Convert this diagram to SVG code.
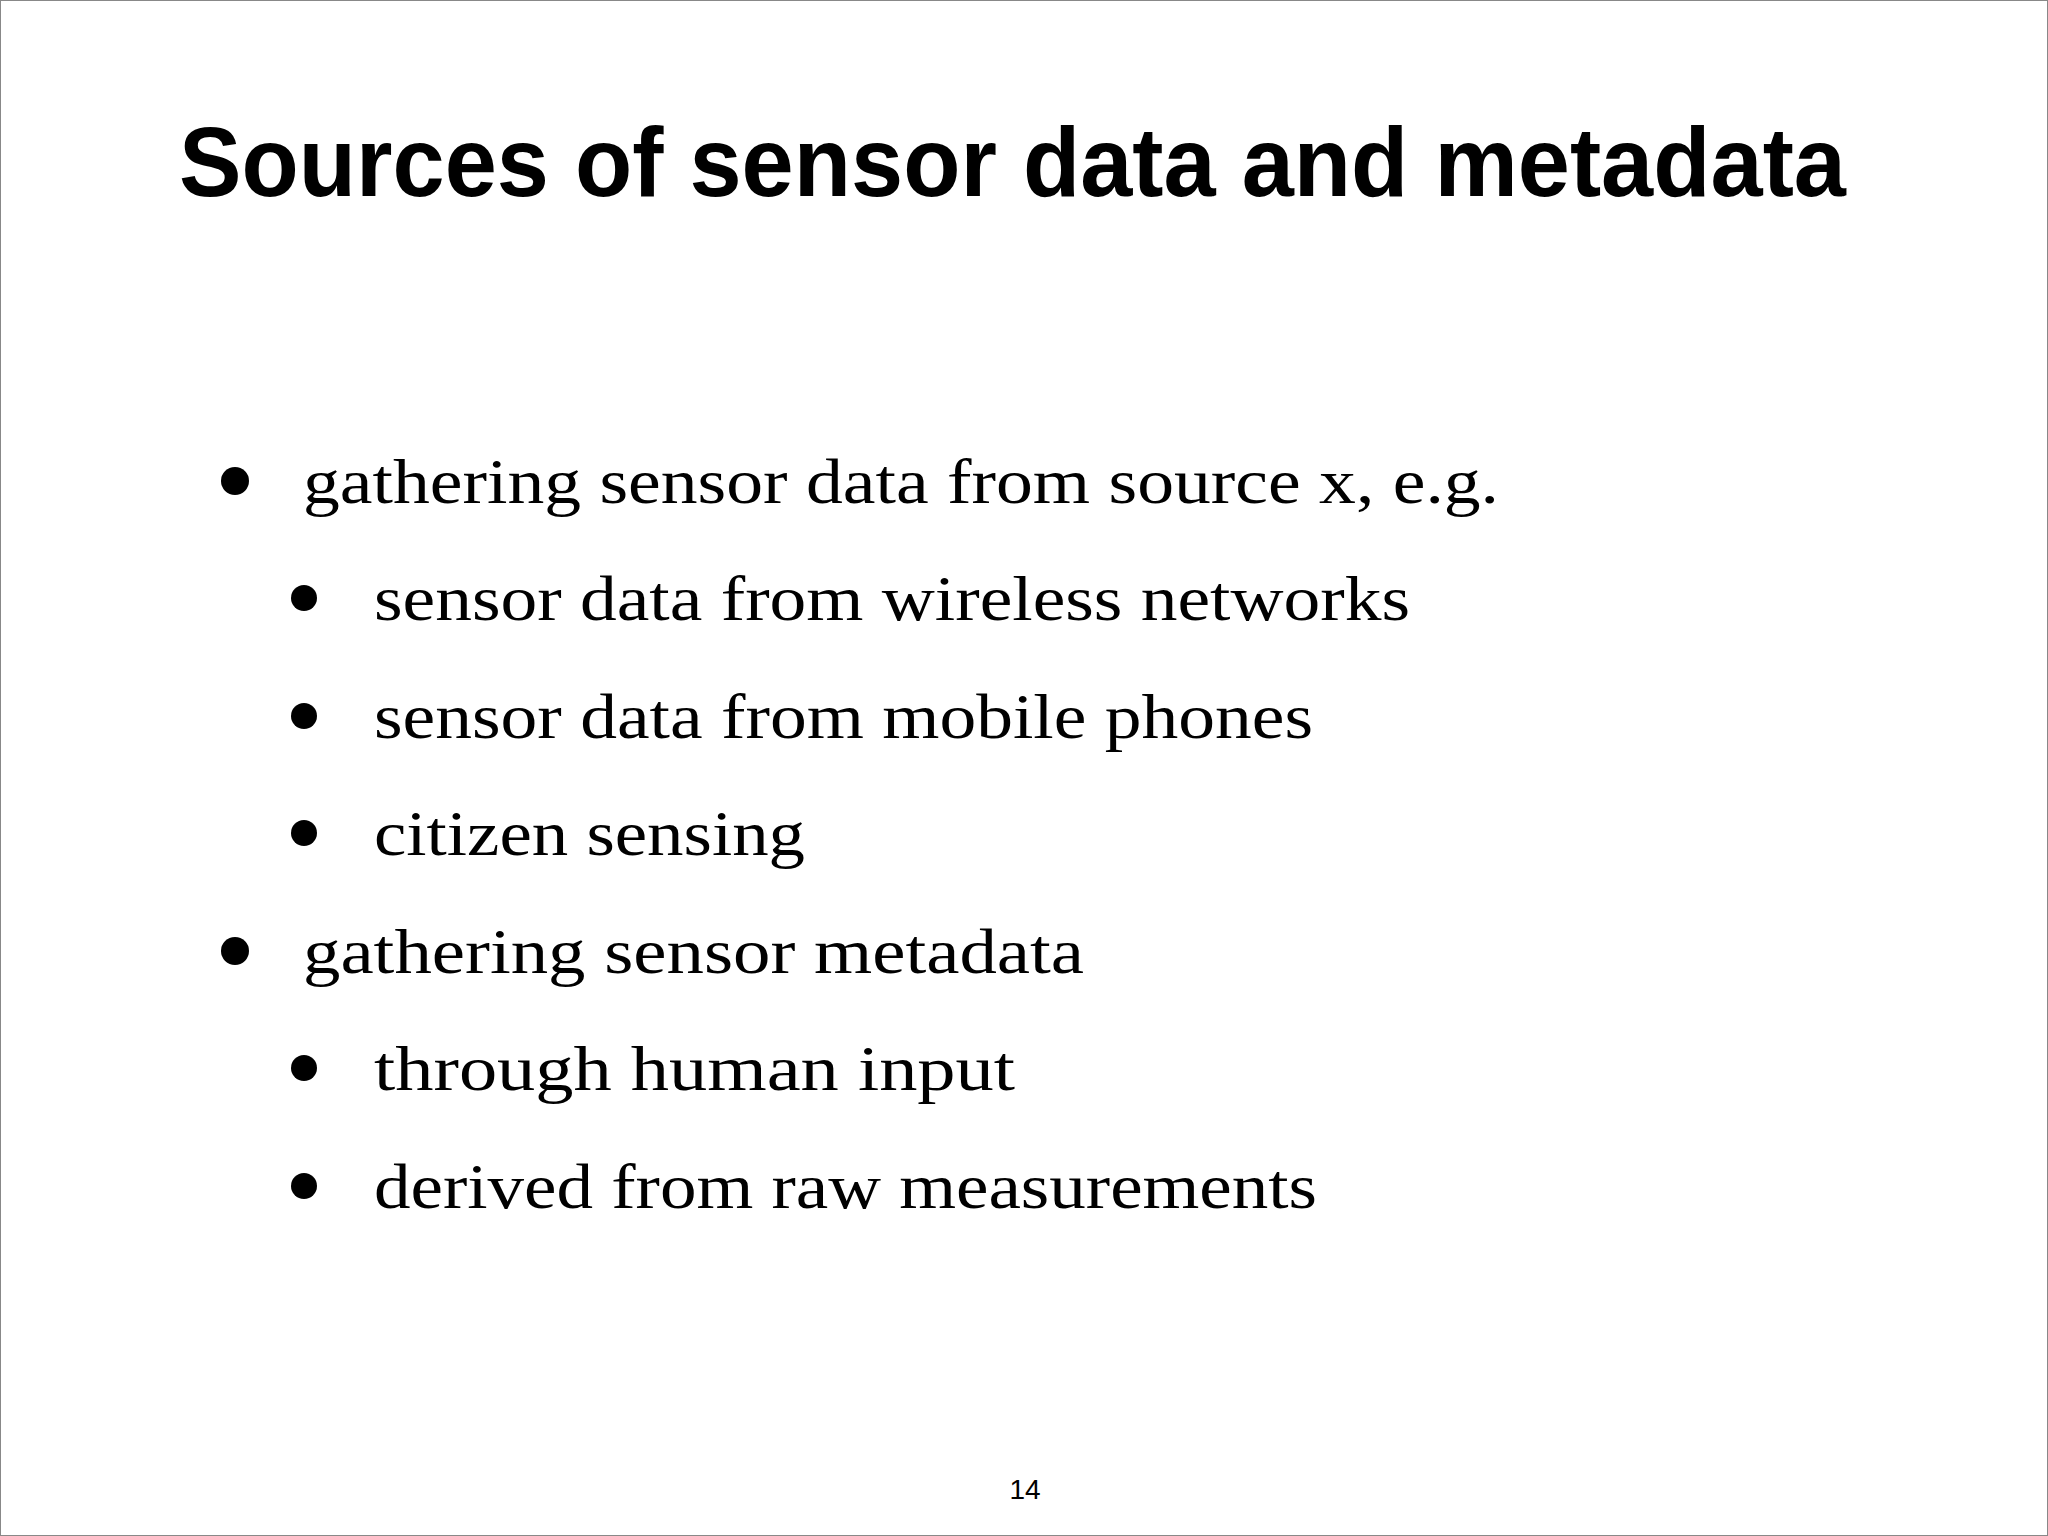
<svg xmlns="http://www.w3.org/2000/svg" width="2048" height="1536" viewBox="0 0 2048 1536">
<style>
.t{font-family:"Liberation Sans",Arial,sans-serif;font-weight:bold;font-size:98px;fill:#000}
.b{font-family:"Liberation Serif","Times New Roman",serif;font-size:64px;fill:#000}
.n{font-family:"Liberation Sans",Arial,sans-serif;font-size:28px;fill:#000}
</style>
<rect x="0.5" y="0.5" width="2047" height="1535" fill="#fff" stroke="#888" stroke-width="1"/>
<text id="title" class="t" x="179" y="196" textLength="1667" lengthAdjust="spacingAndGlyphs">Sources of sensor data and metadata</text>
<g id="bullets" fill="#000">
<circle cx="235" cy="481" r="14"/>
<circle cx="304" cy="598" r="13"/>
<circle cx="304" cy="716" r="13"/>
<circle cx="304" cy="833" r="13"/>
<circle cx="235" cy="951" r="14"/>
<circle cx="304" cy="1068" r="13"/>
<circle cx="304" cy="1186" r="13"/>
</g>
<g id="text">
<text class="b" x="303" y="503" textLength="1196" lengthAdjust="spacingAndGlyphs">gathering sensor data from source x, e.g.</text>
<text class="b" x="374" y="620" textLength="1036" lengthAdjust="spacingAndGlyphs">sensor data from wireless networks</text>
<text class="b" x="374" y="738" textLength="939" lengthAdjust="spacingAndGlyphs">sensor data from mobile phones</text>
<text class="b" x="374" y="855" textLength="431" lengthAdjust="spacingAndGlyphs">citizen sensing</text>
<text class="b" x="303" y="973" textLength="781" lengthAdjust="spacingAndGlyphs">gathering sensor metadata</text>
<text class="b" x="374" y="1090" textLength="641" lengthAdjust="spacingAndGlyphs">through human input</text>
<text class="b" x="374" y="1208" textLength="943" lengthAdjust="spacingAndGlyphs">derived from raw measurements</text>
</g>
<text id="page" class="n" x="1025" y="1499" text-anchor="middle">14</text>
</svg>
